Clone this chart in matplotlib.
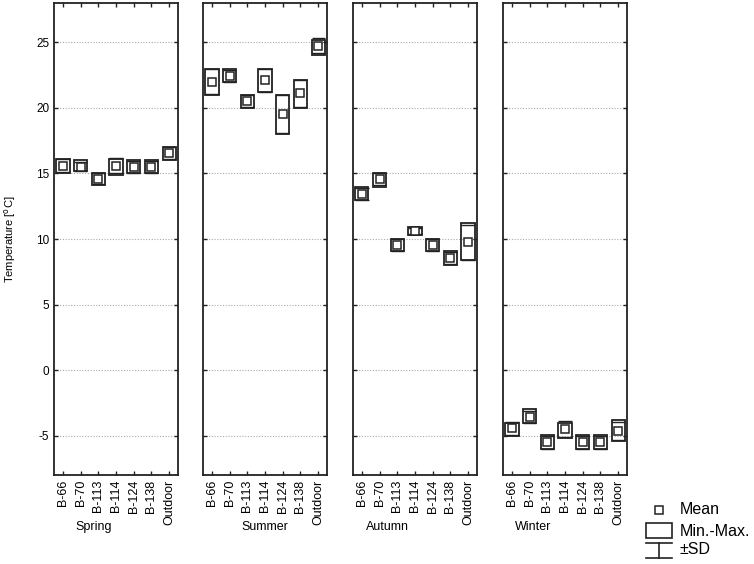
import matplotlib
matplotlib.use("Agg")
import matplotlib.pyplot as plt
from matplotlib.patches import Rectangle
from matplotlib.lines import Line2D

plt.rcParams['font.family'] = ['Liberation Sans', 'DejaVu Sans']
plt.rcParams['axes.unicode_minus'] = False

# data
sites = ["B-66", "B-70", "B-113", "B-114", "B-124", "B-138", "Outdoor"]
seasons = ["Spring", "Summer", "Autumn", "Winter"]

spring_mean = [15.6, 15.5, 14.6, 15.6, 15.5, 15.5, 16.55]
spring_min = [15.0, 15.2, 14.1, 14.9, 15.0, 15.0, 16.0]
spring_max = [16.1, 16.0, 15.0, 16.1, 16.0, 16.0, 17.0]

summer_mean = [22.0, 22.45, 20.55, 22.1, 19.5, 21.1, 24.75]
summer_min = [21.0, 22.0, 20.0, 21.2, 18.0, 20.0, 24.0]
summer_max = [23.0, 23.0, 21.0, 23.0, 21.0, 22.1, 25.2]

autumn_mean = [13.45, 14.55, 9.55, 10.6, 9.55, 8.55, 9.75]
autumn_min = [13.0, 14.0, 9.05, 10.3, 9.05, 8.05, 8.4]
autumn_max = [14.0, 15.0, 10.0, 10.9, 10.0, 9.05, 11.2]

winter_mean = [-4.45, -3.6, -5.5, -4.5, -5.5, -5.5, -4.65]
winter_min = [-5.0, -4.05, -6.05, -5.2, -6.05, -6.05, -5.4]
winter_max = [-4.0, -2.95, -4.95, -4.0, -4.95, -4.95, -3.8]

spring_sd = [0.5, 0.35, 0.4, 0.55, 0.45, 0.45, 0.45]
summer_sd = [0.95, 0.45, 0.45, 0.85, 1.45, 1.0, 0.55]
autumn_sd = [0.45, 0.45, 0.45, 0.25, 0.45, 0.45, 1.35]
winter_sd = [0.5, 0.45, 0.5, 0.6, 0.5, 0.5, 0.7]

means = [spring_mean, summer_mean, autumn_mean, winter_mean]
mins = [spring_min, summer_min, autumn_min, winter_min]
maxs = [spring_max, summer_max, autumn_max, winter_max]
sds = [spring_sd, summer_sd, autumn_sd, winter_sd]

yticks = [-5, 0, 5, 10, 15, 20, 25]

W, H = 754, 564
fig = plt.figure(figsize=(W / 100, H / 100), dpi=100)

lefts = [54, 203, 353, 503]
label_x = [94, 265, 387, 533]
pw = 124
top, bottom = 3, 475
edge = "#222222"
bw = 0.75

for i, season in enumerate(seasons):
    ax = fig.add_axes([lefts[i] / W, 1 - bottom / H, pw / W, (bottom - top) / H])
    ax.set_xlim(-0.5, 6.5)
    ax.set_ylim(-8, 28)
    ax.set_yticks(yticks)
    ax.yaxis.grid(True, linestyle=(0, (1, 1.5)), color="#aaaaaa", linewidth=0.8)
    ax.set_axisbelow(True)
    for j in range(len(sites)):
        lo, hi, m, s = mins[i][j], maxs[i][j], means[i][j], sds[i][j]
        ax.add_patch(Rectangle((j - bw / 2, lo), bw, hi - lo, fill=False,
                               edgecolor=edge, linewidth=1.3, zorder=3))
        ax.hlines([m - s, m + s], j - bw / 2, j + bw / 2, color=edge,
                  linewidth=1.0, zorder=3)
    ax.plot(range(len(sites)), means[i], linestyle="none", marker="s",
            markersize=5.5, markerfacecolor="white", markeredgecolor=edge,
            markeredgewidth=1.1, zorder=4)
    ax.set_xticks(range(len(sites)))
    ax.set_xticklabels(sites, rotation=90, fontsize=9)
    ax.tick_params(direction="in", length=3, width=1, color=edge,
                   top=True, right=True, bottom=True, left=True)
    if i == 0:
        ax.tick_params(axis="y", labelsize=8.5)
        ax.set_ylabel("Temperature [$^{\\mathrm{o}}$C]", fontsize=8)
        ax.yaxis.set_label_coords(-0.29, 0.5)
    else:
        ax.set_yticklabels([])
    for sp in ax.spines.values():
        sp.set_linewidth(1.3)
        sp.set_color(edge)
    fig.text(label_x[i] / W, 1 - 527 / H, season, ha="center", va="center",
             fontsize=9)

# legend drawn in pixel coordinates
lg = fig.add_axes([0, 0, 1, 1])
lg.set_xlim(0, W)
lg.set_ylim(H, 0)
lg.axis("off")
lg.plot([659], [510], marker="s", markersize=5.5, markerfacecolor="white",
        markeredgecolor=edge, markeredgewidth=1.1, linestyle="none")
lg.add_patch(Rectangle((646, 523), 26, 15, fill=False, edgecolor=edge, linewidth=1.2))
lg.add_line(Line2D([646, 672], [543, 543], color=edge, linewidth=1.2))
lg.add_line(Line2D([646, 672], [558, 558], color=edge, linewidth=1.2))
lg.add_line(Line2D([659, 659], [543, 558], color=edge, linewidth=1.2))
lg.text(680, 510, "Mean", va="center", fontsize=11.5)
lg.text(680, 531, "Min.-Max.", va="center", fontsize=11.5)
lg.text(680, 550, "±SD", va="center", fontsize=11.5)

fig.savefig("out.png", dpi=100)
